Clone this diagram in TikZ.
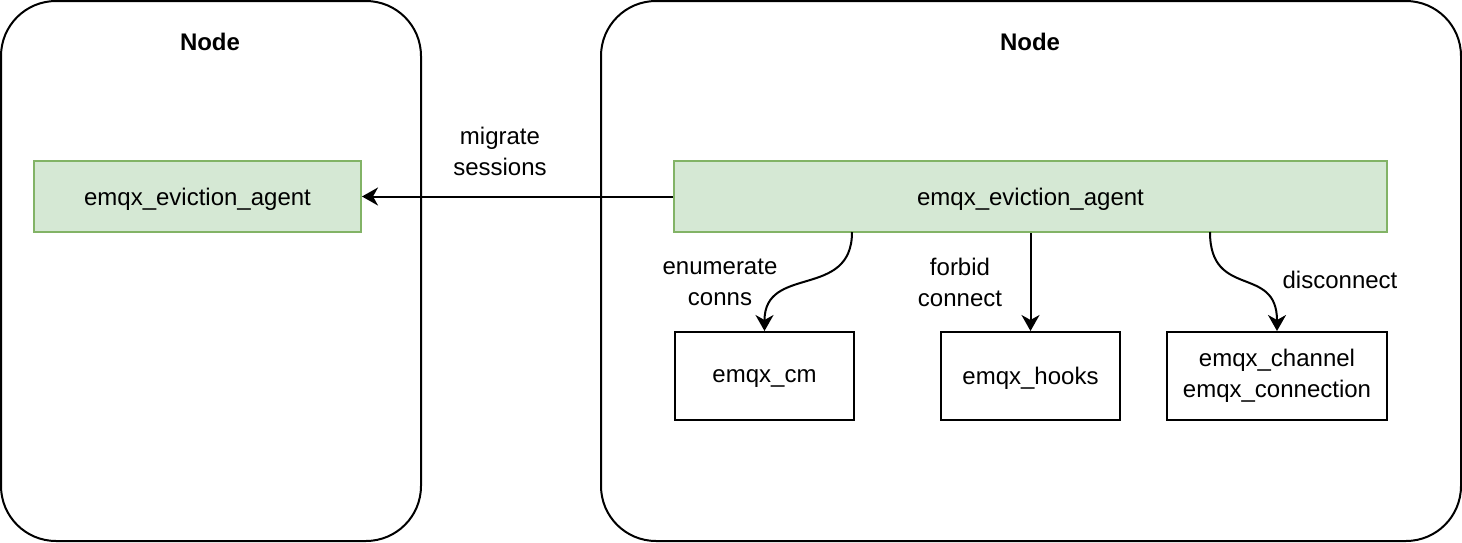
\documentclass[tikz,border=0pt]{standalone}
\usepackage{fontspec}
\setmainfont{Liberation Sans}
\usetikzlibrary{arrows.meta}
\definecolor{agentfill}{HTML}{D5E8D4}
\definecolor{agentline}{HTML}{82B366}

\begin{document}
\begin{tikzpicture}[x=0.5pt,y=-0.5pt,
  font=\fontsize{12}{15.5}\selectfont,
  arr/.style={-{Stealth[length=8pt,width=9pt,inset=2.5pt]}, line width=1pt},
  lbl/.style={align=center, inner sep=0pt}]
\useasboundingbox (0,0) rectangle (1462,542);
  % the two cluster nodes
  \begin{scope}[every node/.style={draw, line width=1pt, rounded corners=27.5pt,
                                   minimum height=270pt, inner sep=0pt}]
  \node[minimum width=210pt] (nodeL) at (211,271) {};
  \node[minimum width=430pt] (nodeR) at (1031,271) {};
  \end{scope}
  \node[font=\fontsize{12}{15.5}\selectfont\bfseries] (titleL) at (210,42) {Node};
  \node[font=\fontsize{12}{15.5}\selectfont\bfseries] (titleR) at (1030,42) {Node};
  % agents
  \begin{scope}[every node/.style={draw=agentline, fill=agentfill, line width=1pt,
                                   minimum height=35.5pt, inner sep=0pt,
                                   text depth=0pt}]
  \node[minimum width=163.5pt] (agentL) at (197.5,196.5) {emqx\_eviction\_agent};
  \node[minimum width=356.5pt] (agentR) at (1030.5,196.5) {emqx\_eviction\_agent};
  \end{scope}
  % local modules
  \begin{scope}[every node/.style={draw, line width=1pt, align=center,
                                   minimum height=44pt, inner sep=0pt}]
  \node[minimum width=89.5pt, text depth=0pt] (cm) at (764.5,376) {emqx\_cm};
  \node[minimum width=89.5pt, text depth=0pt] (hooks) at (1030.5,376) {emqx\_hooks};
  \node[minimum width=110pt] (chan) at (1277,376) {emqx\_channel\\emqx\_connection};
  \end{scope}
  \coordinate (s1) at (852,232);
  \coordinate (s3) at (1210,232);
  \path [arr] (agentR.west) edge (agentL.east);
  \draw [arr] (s1) .. controls (852,300) and (cm.north|-0,264) .. (cm.north);
  \path [arr] (hooks.north|-agentR.south) edge (hooks.north);
  \draw [arr] (s3) .. controls (1210,300) and (chan.north|-0,264) .. (chan.north);
  % labels
  \node[lbl] (migrate) at (500,151) {migrate\\sessions};
  \node[lbl] (enum) at (720,282) {enumerate\\conns};
  \node[lbl] (forbid) at (960,282) {forbid\\connect};
  \node[lbl] (disc) at (1340,280) {disconnect};
\end{tikzpicture}
\end{document}
